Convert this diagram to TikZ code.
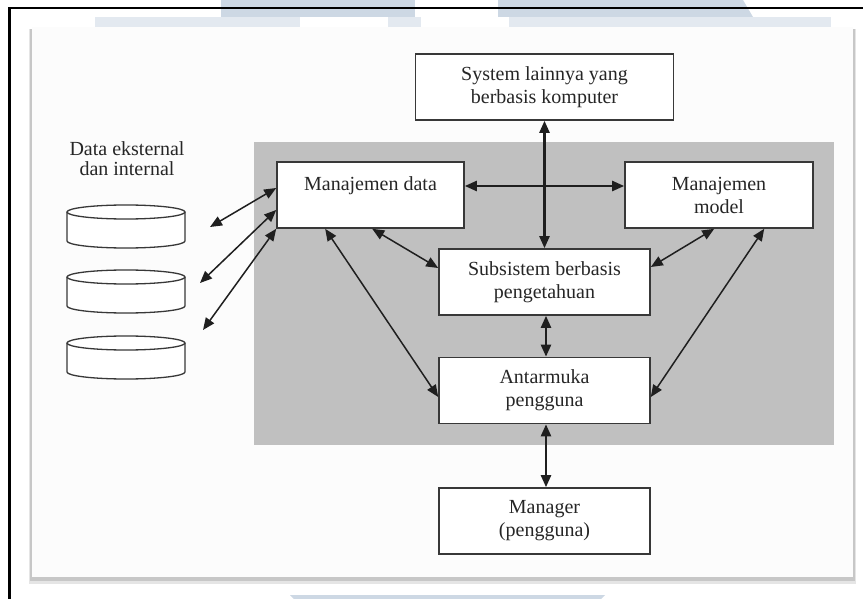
\documentclass[tikz,border=0pt]{standalone}
\usepackage{fontspec}
\setmainfont{Liberation Serif}
\usetikzlibrary{arrows.meta}
\definecolor{wm}{HTML}{CDD8E4}
\definecolor{wmlight}{HTML}{E3E9F0}
\definecolor{panel}{HTML}{C0C0C0}
\definecolor{edge}{HTML}{383838}
\definecolor{txt}{HTML}{262626}
\definecolor{card}{HTML}{FCFCFC}
\begin{document}
\begin{tikzpicture}[x=1pt,y=-1pt,
  box/.style={draw=edge, line width=1.6pt, fill=white, text=txt, align=center,
    font=\fontsize{20}{23}\selectfont, inner sep=0pt, minimum height=66pt},
  lbl/.style={text=txt, align=center, font=\fontsize{20}{20}\selectfont, inner sep=0pt},
  cyl/.style={draw=edge, line width=1.3pt, fill=white},
  dbl/.style={{Triangle[length=12pt,width=10pt]}-{Triangle[length=12pt,width=10pt]},
    line width=1.5pt, draw=black!88},
  thk/.style={dbl, line width=2.3pt},
]
\useasboundingbox (0,0) rectangle (863,599);
\fill[white] (0,0) rectangle (863,599);
% watermark behind
\fill[wm] (221,0) rectangle (415,17);
\fill[wm] (498,0) -- (743,0) -- (753,17) -- (498,17) -- cycle;
\fill[wmlight] (95,17) rectangle (300,27);
\fill[wmlight] (388,17) rectangle (421,27);
\fill[wmlight] (509,17) rectangle (831,27);
\fill[wm] (290,595) -- (605,595) -- (601,599) -- (294,599) -- cycle;
% outer frame
\draw[line width=2.5pt] (9.5,599) -- (9.5,8) -- (863,8);
% card with shadow
\fill[black!10] (29,29) rectangle (856,584);
\fill[black!22] (30,29) rectangle (855,581);
\fill[card] (32,27) rectangle (853,577);
% grey panel
\fill[panel] (254,142) rectangle (834,445);
% boxes
\node[box, minimum width=258pt] (sys) at (544.5,87) {System lainnya yang\\berbasis komputer};
\node[box, minimum width=187pt] (md) at (370.5,195) {Manajemen data\\\phantom{x}};
\node[box, minimum width=188pt] (mm) at (719,195) {Manajemen\\model};
\node[box, minimum width=211pt] (ss) at (544.5,282) {Subsistem berbasis\\pengetahuan};
\node[box, minimum width=211pt] (am) at (544.5,390.5) {Antarmuka\\pengguna};
\node[box, minimum width=211pt] (mg) at (544.5,521) {Manager\\(pengguna)};
% data label
\node[lbl] (dlabel) at (127,159) {Data eksternal\\dan internal};
% cylinders
\foreach \t in {205,270,336}{
  \draw[cyl] (67,\t+7) -- (67,\t+36) arc[start angle=180,end angle=0,x radius=59,y radius=7] -- (185,\t+7);
  \draw[cyl] (126,\t+7) ellipse [x radius=59, y radius=7];
}
\coordinate (d1) at (210,227);
\coordinate (d2) at (200,283);
\coordinate (d3) at (203,330);
% connectors
\draw[dbl] (d1) -- ([yshift=7pt]md.west);
\draw[dbl] (d2) -- ([yshift=-15pt]md.west);
\draw[dbl] (d3) -- (md.south west);
\draw[dbl] ([xshift=49pt]md.south west) -- ([yshift=-6.5pt]am.west);
\draw[dbl] ([xshift=96pt]md.south west) -- ([yshift=14pt]ss.west);
\draw[thk] (sys.south) -- (ss.north);
\draw[thk] ([yshift=9pt]md.east) -- ([yshift=9pt]mm.west);
\draw[dbl] ([xshift=90pt]mm.south west) -- ([yshift=15pt]ss.east);
\draw[dbl] ([xshift=140pt]mm.south west) -- ([yshift=-6.5pt]am.east);
\draw[thk] ([xshift=1.5pt]ss.south) -- ([xshift=1.5pt]am.north);
\draw[thk] ([xshift=1.5pt]am.south) -- ([xshift=1.5pt]mg.north);
\end{tikzpicture}
\end{document}
